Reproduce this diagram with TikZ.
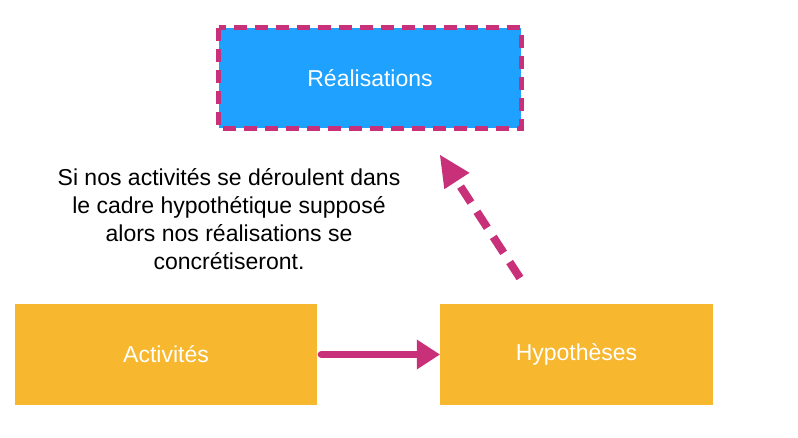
\documentclass[tikz,border=0pt]{standalone}
\usepackage{fontspec}
\setmainfont{Liberation Sans}
\usetikzlibrary{arrows.meta}
\definecolor{realblue}{RGB}{30,161,255}
\definecolor{actorange}{RGB}{247,183,46}
\definecolor{linkpink}{RGB}{200,49,122}
\tikzset{
	box/.style={inner sep=0pt, text=white, font=\fontsize{23}{28}\selectfont},
	dashborder/.style={line width=5pt, color=linkpink, dash pattern=on 13pt off 8pt},
	flow/.style={line width=7pt, color=linkpink, line cap=round, -{Triangle[length=23pt, width=30pt, line width=0pt]}},
	dashflow/.style={line width=8pt, color=linkpink, dash pattern=on 19pt off 11pt, -{Triangle[length=31pt, width=30pt, line width=0pt]}},
	note/.style={inner sep=0pt, align=center, font=\fontsize{23}{28}\selectfont}
}
\begin{document}
\begin{tikzpicture}[x=1pt, y=-1pt]
			%%%%% START %%%%%
			
			\useasboundingbox[fill=white] (0, 0) rectangle (798, 438);
			
			\node[box, fill=realblue, minimum width=302pt, minimum height=100pt] (real) at (370, 78) {Réalisations};
			\draw[dashborder] (real.north west) rectangle (real.south east);
			
			\node[note] (hint) at (229, 219) {Si nos activités se déroulent dans\\le cadre hypothétique supposé\\alors nos réalisations se\\concrétiseront.};
			
			\node[box, fill=actorange, minimum width=302pt, minimum height=101pt] (act) at (166, 354.5) {Activités};
			\node[box, fill=actorange, minimum width=273pt, minimum height=101pt] (hyp) at (576.5, 354.5) {Hypothèses};
			
			\draw[flow, shorten <=4pt] (act) -- (hyp);
			
			\coordinate (up from) at (520, 278);
			\coordinate (up to) at (440, 155);
			\draw[dashflow] (up from) -- (up to);
			
			%%%%% END %%%%%
		\end{tikzpicture}
\end{document}
